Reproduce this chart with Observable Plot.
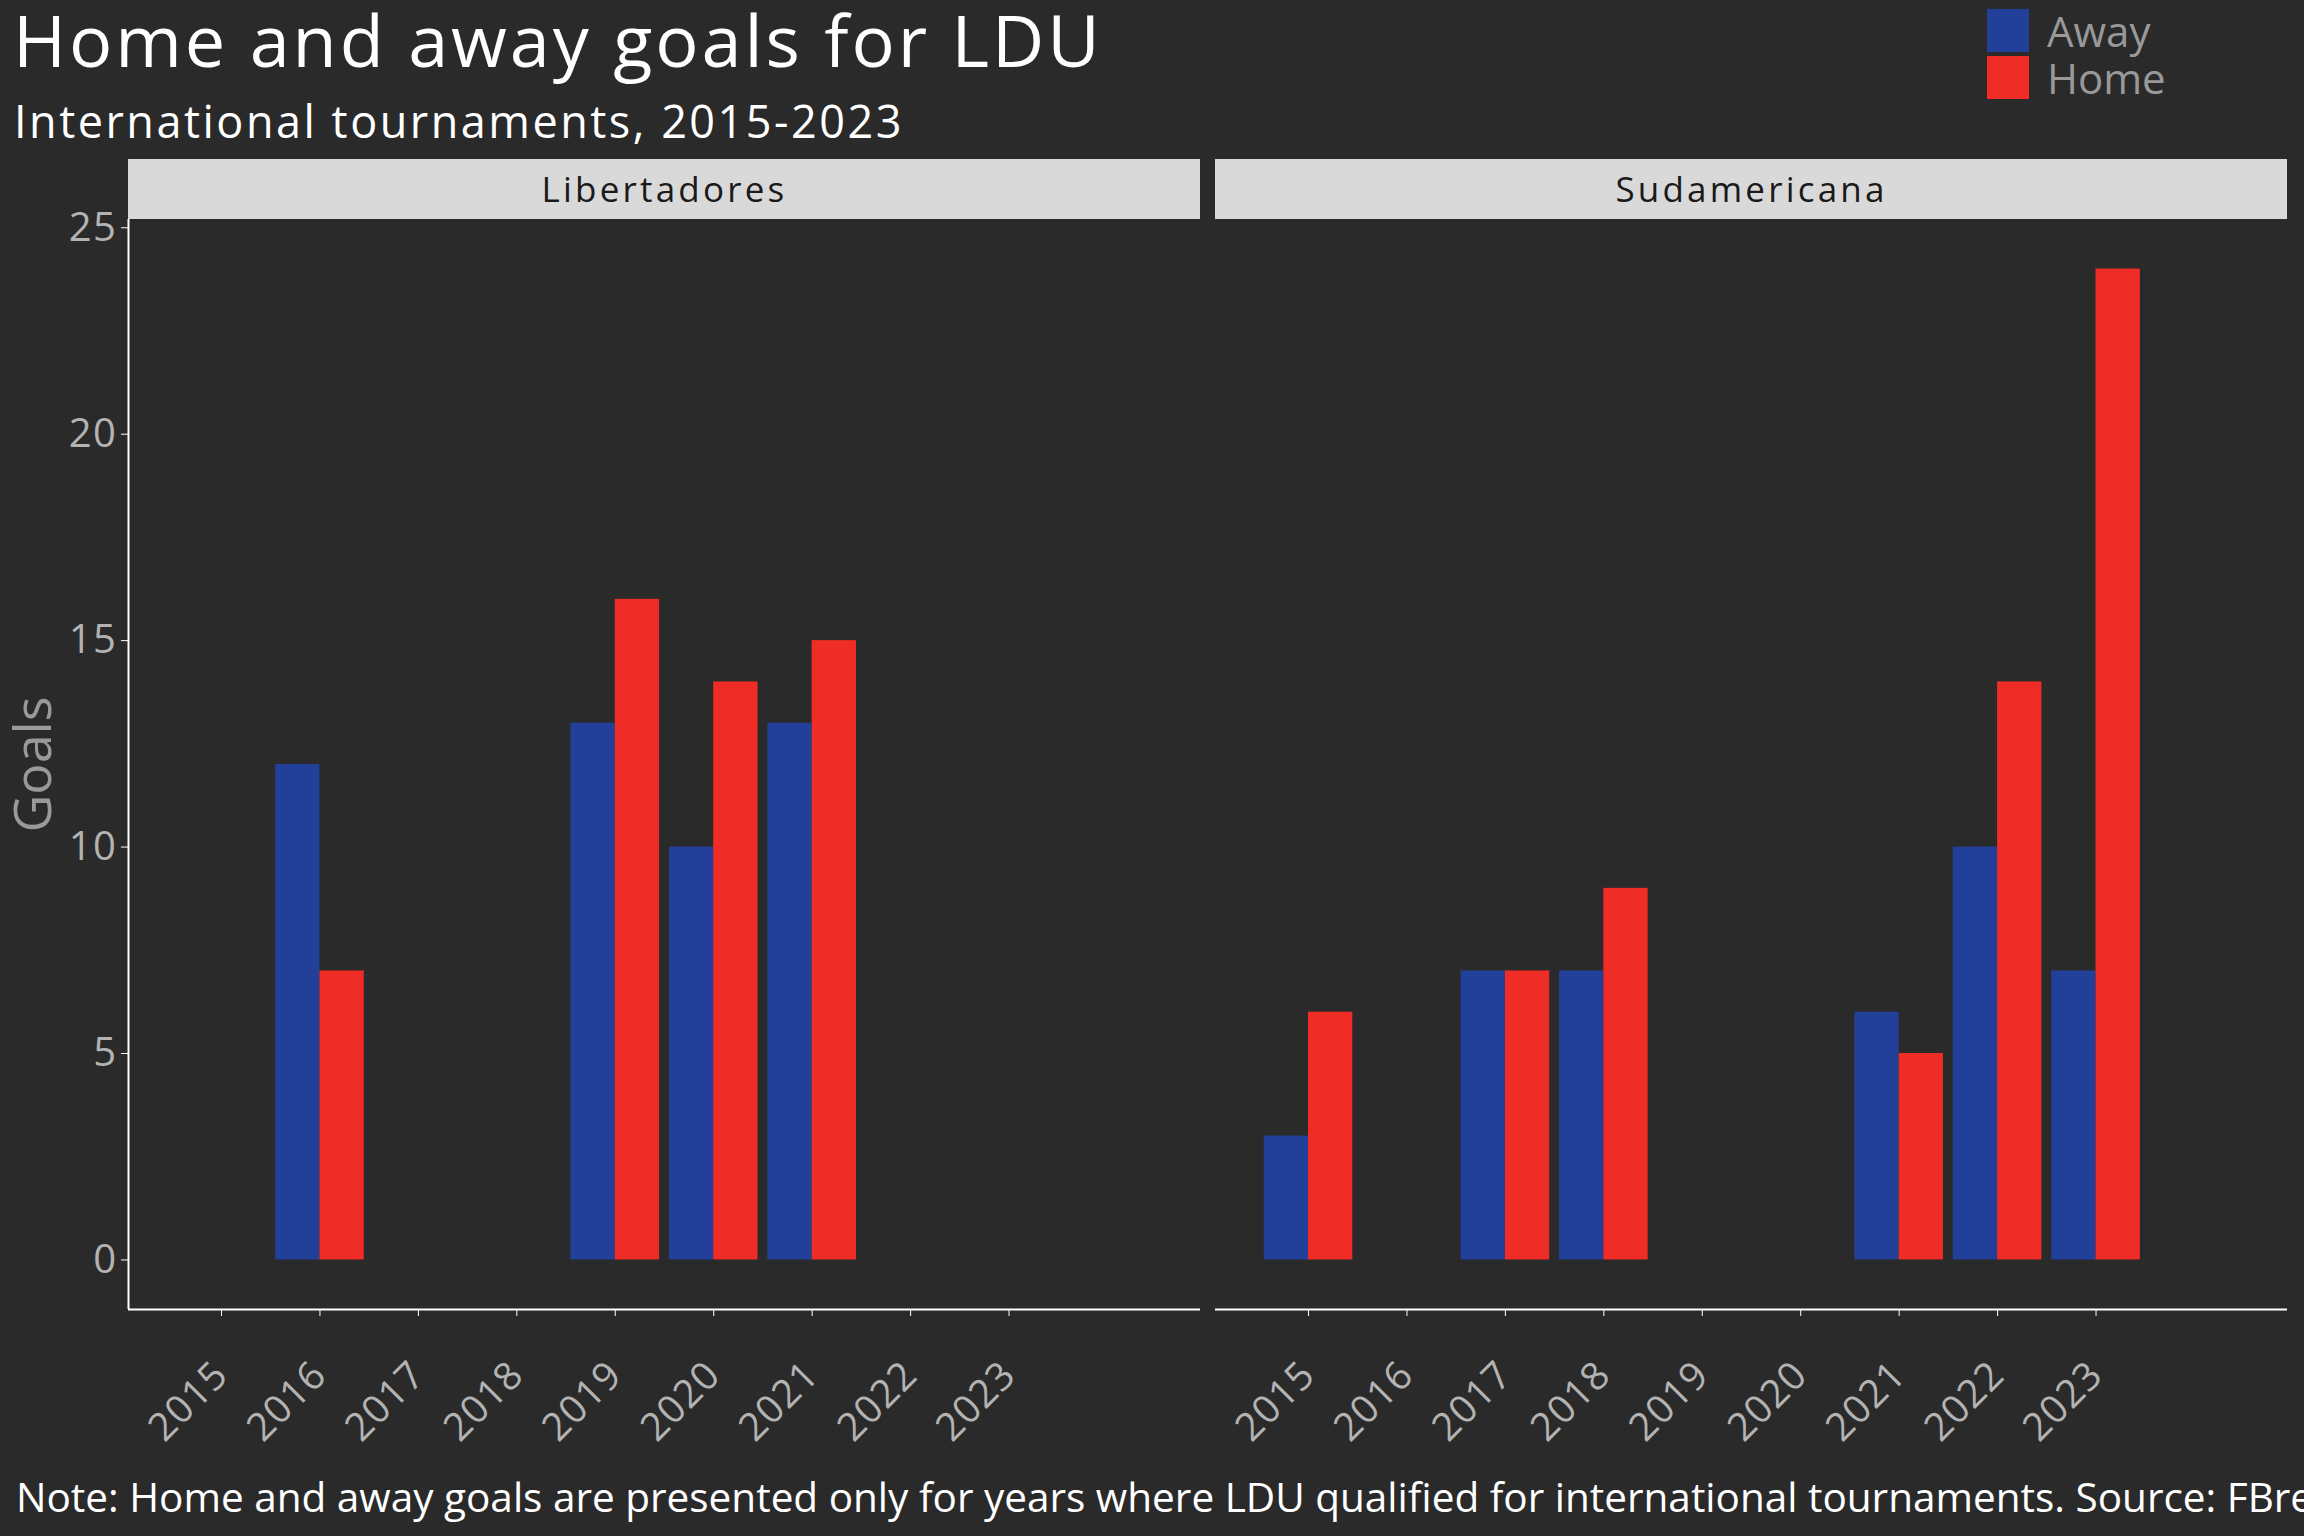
<!DOCTYPE html>
<html>
<head>
<meta charset="utf-8">
<script src="https://cdn.jsdelivr.net/npm/d3@7"></script>
<script src="https://cdn.jsdelivr.net/npm/@observablehq/plot@0.6"></script>
<style>
  html, body { margin: 0; padding: 0; }
  body { width: 2304px; height: 1536px; background: #2a2a2a; overflow: hidden; position: relative; font-family: "Open Sans", sans-serif; }
  .txt { position: absolute; line-height: 1; white-space: nowrap; }
  #chart { position: absolute; left: 0; top: 159px; }
  .legend-item { position: absolute; left: 1987px; display: flex; align-items: center; }
  .swatch { width: 42px; height: 43px; }
  .legend-label { margin-left: 18px; font-size: 42px; color: #999999; line-height: 1; }
  g[aria-label="fx-axis tick label"] text { letter-spacing: 3.2px; }
  g[aria-label="y-axis tick label"] text { letter-spacing: 1.5px; }
  g[aria-label="x-axis tick label"] text { letter-spacing: 1px; }
</style>
</head>
<body>
<div class="txt" id="title" style="left:13px;top:3px;font-size:72px;letter-spacing:2.9px;color:#ffffff;">Home and away goals for LDU</div>
<div class="txt" id="subtitle" style="left:14px;top:98px;font-size:45px;letter-spacing:2.5px;color:#ffffff;">International tournaments, 2015-2023</div>
<div id="legend"></div>
<div id="chart"></div>
<div class="txt" id="caption" style="left:16px;top:1477px;font-size:40.5px;color:#ffffff;">Note: Home and away goals are presented only for years where LDU qualified for international tournaments. Source: FBref</div>
<script>
// ---- data ----
const tournaments = ["Libertadores", "Sudamericana"];
const types = ["Away", "Home"];
const typeColors = ["#22409a", "#ef2d26"];
const years = [2015, 2016, 2017, 2018, 2019, 2020, 2021, 2022, 2023];
const yTicks = [0, 5, 10, 15, 20, 25];

const libYears = [2016, 2019, 2020, 2021];
const libAway = [12, 13, 10, 13];
const libHome = [7, 16, 14, 15];

const sudYears = [2015, 2017, 2018, 2021, 2022, 2023];
const sudAway = [3, 7, 7, 6, 10, 7];
const sudHome = [6, 7, 9, 5, 14, 24];

// ---- table ----
const rows = [];
function addRows(tournament, ys, away, home) {
  ys.forEach((y, i) => {
    rows.push({tournament, year: y, type: "Away", goals: away[i]});
    rows.push({tournament, year: y, type: "Home", goals: home[i]});
  });
}
addRows("Libertadores", libYears, libAway, libHome);
addRows("Sudamericana", sudYears, sudAway, sudHome);

// ---- legend ----
const legend = document.getElementById("legend");
types.forEach((t, i) => {
  const item = document.createElement("div");
  item.className = "legend-item";
  item.style.top = (9 + i * 47) + "px";
  item.innerHTML = `<div class="swatch" style="background:${typeColors[i]}"></div><div class="legend-label">${t}</div>`;
  legend.appendChild(item);
});

// ---- chart ----
const dodge = 0.45;
const xDomain = [2014.055, 2024.945];
const yDomain = [-1.2, 25.2];
const W = 2304, H = 1301, mTop = 60, mBottom = 151;
const frameH = H - mTop - mBottom;

const chart = Plot.plot({
  width: W,
  height: H,
  marginLeft: 128,
  marginRight: 17,
  marginTop: mTop,
  marginBottom: mBottom,
  style: {background: "transparent", color: "#b3b3b3", fontFamily: "Open Sans, sans-serif", fontSize: "39px", overflow: "visible"},
  fx: {domain: tournaments, paddingInner: 0.0138, paddingOuter: 0, label: null},
  x: {domain: xDomain, label: null},
  y: {domain: yDomain, label: null},
  color: {domain: types, range: typeColors},
  marks: [
    Plot.rect(tournaments, {fx: d => d, fill: "#d9d9d9", insetTop: -mTop, insetBottom: frameH}),
    Plot.axisFx({anchor: "top", tickSize: 0, tickPadding: 18, fill: "#1a1a1a", fontSize: 35, label: null}),
    Plot.rect(rows, {
      fx: "tournament",
      x1: d => d.type === "Away" ? d.year - dodge : d.year,
      x2: d => d.type === "Away" ? d.year : d.year + dodge,
      y1: d => 0,
      y2: "goals",
      fill: "type"
    }),
    Plot.ruleY([yDomain[0]], {stroke: "white", strokeWidth: 2}),
    Plot.ruleX([xDomain[0]], {fx: () => "Libertadores", stroke: "white", strokeWidth: 2}),
    Plot.axisX({ticks: years, tickFormat: d => String(d), tickRotate: -45, tickSize: 7, tickPadding: 52, stroke: "white", fill: "#b3b3b3", fontSize: 39, label: null}),
    Plot.axisY({ticks: yTicks, tickSize: 7, tickPadding: 4, stroke: "white", fill: "#b3b3b3", fontSize: 40, label: null}),
    Plot.text(["Goals"], {fx: () => "Libertadores", frameAnchor: "left", dx: -94, rotate: -90, fill: "#999999", fontSize: 52, textAnchor: "middle"})
  ]
});
document.getElementById("chart").appendChild(chart);
</script>
</body>
</html>
